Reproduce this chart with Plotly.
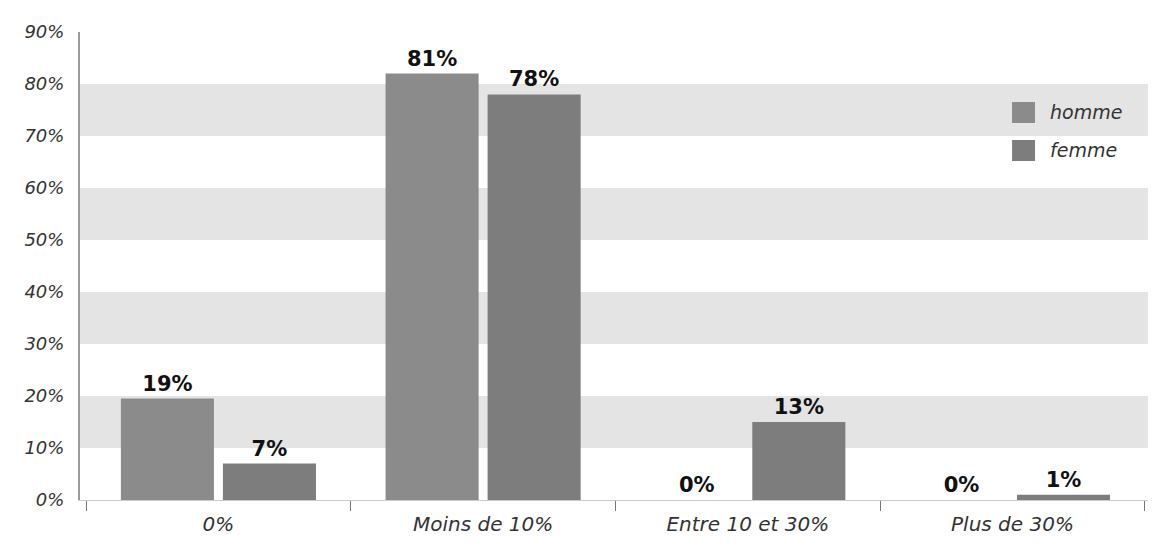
import plotly.graph_objects as go

categories = ["0%", "Moins de 10%", "Entre 10 et 30%", "Plus de 30%"]
homme = [19.5, 82, 0, 0]
femme = [7, 78, 15, 1]
homme_labels = ["19%", "81%", "0%", "0%"]
femme_labels = ["7%", "78%", "13%", "1%"]
y_ticks = [0, 10, 20, 30, 40, 50, 60, 70, 80, 90]
y_tick_labels = ["0%", "10%", "20%", "30%", "40%", "50%", "60%", "70%", "80%", "90%"]
bands = [(10, 20), (30, 40), (50, 60), (70, 80)]
series_names = ["homme", "femme"]

col_h = "#8b8b8b"
col_f = "#7d7d7d"
FONT = "DejaVu Sans"

fig = go.Figure()
fig.add_trace(go.Bar(x=categories, y=homme, name="homme", marker=dict(color=col_h, line=dict(width=0)),
                     text=homme_labels, textposition="outside", cliponaxis=False, showlegend=False,
                     textfont=dict(family=FONT, size=21, color="#111", weight="bold")))
fig.add_trace(go.Bar(x=categories, y=femme, name="femme", marker=dict(color=col_f, line=dict(width=0)),
                     text=femme_labels, textposition="outside", cliponaxis=False, showlegend=False,
                     textfont=dict(family=FONT, size=21, color="#111", weight="bold")))

for lo, hi in bands:
    fig.add_shape(type="rect", xref="paper", yref="y", x0=0, x1=1, y0=lo, y1=hi,
                  fillcolor="#e4e4e4", line=dict(width=0), layer="below")

# custom legend (large square swatches)
leg_x0, leg_x1 = 0.8727, 0.8942
leg_rows = [(0.8504, 0.8056), (0.7692, 0.7244)]
for (ytop, ybot), nm, c in zip(leg_rows, series_names, [col_h, col_f]):
    fig.add_shape(type="rect", xref="paper", yref="paper", x0=leg_x0, x1=leg_x1, y0=ybot, y1=ytop,
                  fillcolor=c, line=dict(width=0))
    fig.add_annotation(xref="paper", yref="paper", x=0.906, y=(ytop + ybot) / 2, text=nm,
                       showarrow=False, xanchor="left", yanchor="middle",
                       font=dict(family=FONT, size=19, style="italic", color="#333"))

fig.update_layout(
    width=1152, height=543,
    margin=dict(l=80, r=4, t=32, b=43),
    plot_bgcolor="white", paper_bgcolor="white",
    barmode="group", bargap=0.229, bargroupgap=0.088,
    showlegend=False,
    font=dict(family=FONT, color="#333"),
    xaxis=dict(range=[-0.523, 3.512], showgrid=False, showline=True, linecolor="#cccccc", linewidth=1,
               ticks="outside", tickson="boundaries", ticklen=10, tickcolor="#777",
               ticklabelstandoff=6,
               tickfont=dict(size=20, style="italic", color="#333")),
    yaxis=dict(range=[0, 90], tickvals=y_ticks, ticktext=y_tick_labels, showgrid=False,
               showline=True, linecolor="#999999", linewidth=2, zeroline=False,
               ticks="", ticklabelstandoff=10,
               tickfont=dict(size=18, style="italic", color="#333")),
)
fig.write_html("out.html")
